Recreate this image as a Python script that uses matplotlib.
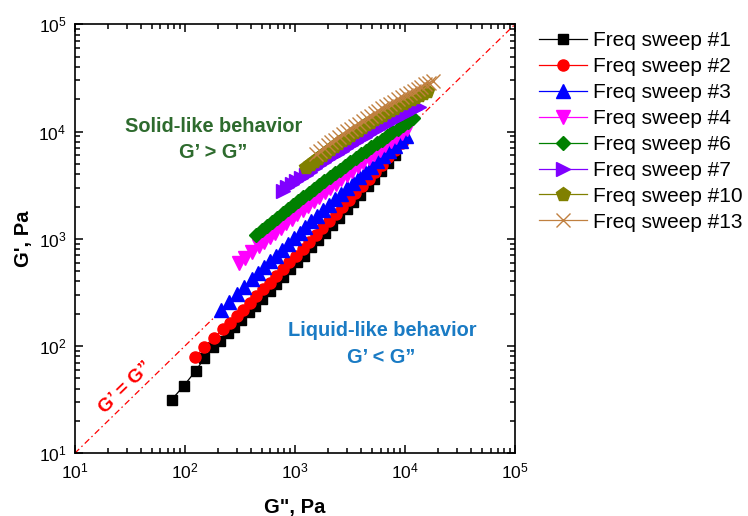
import matplotlib
matplotlib.use("Agg")
import matplotlib.pyplot as plt

plt.rcParams['font.family'] = ['Liberation Sans', 'DejaVu Sans']
plt.rcParams['mathtext.default'] = 'regular'

# ---- data (G'' in Pa, G' in Pa) ----
sweep1_g2 = [76, 98, 126, 151, 182, 209, 245, 282, 324, 380, 437, 501, 589, 676, 776, 912,
             1047, 1202, 1413, 1622, 1862, 2188, 2512, 2951, 3388, 3890, 4571, 5248, 6026, 7079, 8128]
sweep1_g1 = [31.6, 42.7, 58.9, 77.6, 97.7, 112, 132, 151, 175, 207, 238, 275, 326, 378, 437, 519,
             603, 698, 832, 968, 1127, 1349, 1570, 1884, 2198, 2570, 3090, 3622, 4246, 5117, 6012]

sweep2_g2 = [123, 151, 186, 224, 257, 295, 339, 389, 447, 513, 589, 676, 776, 891, 1023, 1175,
             1349, 1549, 1778, 2042, 2344, 2692, 3090, 3548, 4074, 4677, 5370, 6166, 7079, 8128, 9333]
sweep2_g1 = [78.5, 97.7, 120, 145, 165, 191, 219, 253, 292, 337, 389, 450, 520, 603, 697, 807,
             935, 1086, 1259, 1462, 1698, 1972, 2296, 2667, 3105, 3622, 4217, 4920, 5741, 6699, 7816]

sweep3_g2 = [214, 251, 295, 347, 407, 461, 522, 592, 670, 759, 859, 973, 1102, 1247, 1413, 1600,
             1811, 2051, 2323, 2630, 2979, 3373, 3819, 4325, 4898, 5546, 6281, 7112, 8054, 9120, 10327]
sweep3_g1 = [217, 256, 303, 358, 423, 480, 545, 617, 698, 791, 895, 1012, 1143, 1291, 1455, 1641,
             1849, 2084, 2344, 2636, 2965, 3327, 3733, 4188, 4699, 5260, 5888, 6592, 7362, 8222, 9183]

sweep4_g2 = [309, 355, 407, 468, 525, 589, 661, 741, 832, 933, 1047, 1175, 1318, 1479, 1660, 1862,
             2089, 2344, 2630, 2951, 3311, 3715, 4169, 4677, 5248, 5888, 6607, 7413, 8318, 9333, 10471]
sweep4_g1 = [592, 668, 753, 849, 938, 1035, 1143, 1259, 1390, 1531, 1687, 1858, 2042, 2244, 2472, 2710,
             2979, 3273, 3589, 3936, 4315, 4732, 5176, 5662, 6194, 6776, 7413, 8091, 8831, 9638, 10520]

sweep6_g2 = [447, 499, 556, 621, 692, 773, 861, 962, 1072, 1197, 1334, 1489, 1660, 1854, 2065, 2307,
             2570, 2871, 3199, 3573, 3981, 4446, 4955, 5534, 6166, 6887, 7674, 8570, 9550, 10666, 11885]
sweep6_g1 = [1096, 1202, 1315, 1442, 1578, 1726, 1884, 2061, 2244, 2449, 2667, 2911, 3170, 3451, 3750, 4074,
             4426, 4808, 5212, 5662, 6138, 6653, 7194, 7780, 8414, 9099, 9817, 10617, 11429, 12331, 13274]

sweep7_g2 = [776, 853, 940, 1033, 1135, 1250, 1374, 1510, 1663, 1828, 2009, 2213, 2432, 2673, 2944, 3236,
             3556, 3917, 4305, 4732, 5212, 5728, 6295, 6934, 7621, 8375, 9226, 10139, 11143, 12274, 13490]
sweep7_g1 = [2818, 3020, 3243, 3467, 3707, 3972, 4236, 4529, 4842, 5152, 5495, 5861, 6223, 6622, 7047, 7482,
             7943, 8433, 8933, 9462, 10023, 10593, 11194, 11830, 12503, 13183, 13900, 14655, 15417, 16218, 17061]

sweep10_g2 = [1259, 1371, 1489, 1622, 1762, 1919, 2084, 2270, 2472, 2685, 2924, 3177, 3459, 3758, 4093, 4457,
              4842, 5272, 5728, 6237, 6776, 7379, 8035, 8730, 9506, 10328, 11246, 12218, 13305, 14454, 15740]
sweep10_g1 = [4677, 5000, 5346, 5702, 6081, 6486, 6902, 7345, 7798, 8279, 8790, 9311, 9863, 10423, 11041, 11668,
              12303, 12972, 13677, 14388, 15136, 15922, 16711, 17539, 18408, 19231, 20137, 21038, 21979, 22961, 23933]

sweep13_g2 = [1549, 1683, 1824, 1982, 2148, 2333, 2529, 2748, 2985, 3236, 3516, 3811, 4140, 4487, 4875, 5297,
              5741, 6237, 6761, 7345, 7962, 8650, 9397, 10186, 11066, 11995, 13032, 14125, 15346, 16634, 18072]
sweep13_g1 = [6166, 6577, 6998, 7447, 7907, 8414, 8913, 9462, 10046, 10617, 11246, 11885, 12589, 13274, 13996, 14791,
              15560, 16406, 17219, 18113, 19011, 19999, 20989, 21979, 23014, 24044, 25177, 26303, 27479, 28642, 29854]

labels = ["Freq sweep #1", "Freq sweep #2", "Freq sweep #3", "Freq sweep #4",
          "Freq sweep #6", "Freq sweep #7", "Freq sweep #10", "Freq sweep #13"]
diag_limits = [10, 1e5]

series = [
    (sweep1_g2, sweep1_g1, dict(color='black', marker='s', ms=7.4)),
    (sweep2_g2, sweep2_g1, dict(color='#FF0000', marker='o', ms=8.0)),
    (sweep3_g2, sweep3_g1, dict(color='#0000FF', marker='^', ms=9.4)),
    (sweep4_g2, sweep4_g1, dict(color='#FF00FF', marker='v', ms=9.4)),
    (sweep6_g2, sweep6_g1, dict(color='#008000', marker='D', ms=7.4)),
    (sweep7_g2, sweep7_g1, dict(color='#8000FF', marker='>', ms=10)),
    (sweep10_g2, sweep10_g1, dict(color='#808000', marker='p', ms=10.5)),
    (sweep13_g2, sweep13_g1, dict(color='#C08040', marker='x', ms=10, mew=1.0)),
]

fig = plt.figure(figsize=(7.48, 5.16), dpi=100)
ax = fig.add_axes([0.0999, 0.1215, 0.5886, 0.8314])

ax.plot(diag_limits, diag_limits, color='#FF0000', lw=0.9, dashes=[5, 2.5, 1.2, 2.5], zorder=1)

for (x, y, st), lab in zip(series, labels):
    ax.plot(x, y, linestyle='-', lw=0.9, label=lab, zorder=2, **st)

ax.set_xscale('log')
ax.set_yscale('log')
ax.set_xlim(10, 1e5)
ax.set_ylim(10, 1e5)

for s in ax.spines.values():
    s.set_linewidth(1.2)
ax.tick_params(which='both', direction='in', top=True, right=True, labelsize=12.5, width=1.1)
ax.tick_params(which='major', length=6.0, pad=6)
ax.tick_params(which='minor', length=3.3)

ax.set_xlabel('G", Pa', fontsize=14.5, fontweight='bold', labelpad=12)
ax.set_ylabel("G', Pa", fontsize=14.5, fontweight='bold', labelpad=4)

W, H = 748.0, 516.0
def fx(px):
    return px / W
def fy(py):
    return 1 - py / H

fig.text(fx(214), fy(131.5), 'Solid-like behavior', color='#2E6B2E', fontsize=14.4,
         fontweight='bold', ha='center', va='baseline')
fig.text(fx(213), fy(158.3), 'G\u2019 > G\u201d', color='#2E6B2E', fontsize=14.4,
         fontweight='bold', ha='center', va='baseline')
fig.text(fx(382), fy(336), 'Liquid-like behavior', color='#1A7BC4', fontsize=14.4,
         fontweight='bold', ha='center', va='baseline')
fig.text(fx(381), fy(362.7), 'G\u2019 < G\u201d', color='#1A7BC4', fontsize=14.4,
         fontweight='bold', ha='center', va='baseline')
fig.text(fx(126), fy(388), 'G\u2019 = G\u201d', color='#FF0000', fontsize=14,
         fontweight='bold', ha='center', va='center', rotation=44, rotation_mode='anchor')

leg = fig.legend(loc='upper left', bbox_to_anchor=(fx(539), fy(31.5)), frameon=False,
                 fontsize=15, handlelength=2.3, handletextpad=0.3, labelspacing=0.33,
                 borderpad=0, borderaxespad=0)

fig.savefig('out.png', dpi=100)
